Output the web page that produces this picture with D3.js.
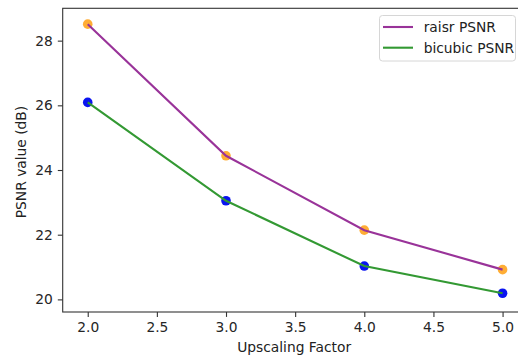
<!DOCTYPE html>
<html>
<head>
<meta charset="utf-8">
<script src="https://cdn.jsdelivr.net/npm/d3@7"></script>
<style>
  body { margin: 0; background: #fff; }
  text { font-family: "DejaVu Sans", sans-serif; fill: #222; }
</style>
</head>
<body>
<script>
// data
const factors = [2, 3, 4, 5];
const raisrPSNR = [28.51, 24.44, 22.14, 20.92];
const bicubicPSNR = [26.09, 23.05, 21.03, 20.19];
const xTicks = [2.0, 2.5, 3.0, 3.5, 4.0, 4.5, 5.0];
const yTicks = [20, 22, 24, 26, 28];

const W = 518, H = 360;
const m = { left: 62.7, top: 8.3, right: 527.6, bottom: 312 };
const fs = 13.8;

const svg = d3.select("body").append("svg")
  .attr("width", W)
  .attr("height", H);

const x = d3.scaleLinear().domain([1.819, 5.181]).range([m.left, m.right]);
const y = d3.scaleLinear().domain([19.61, 29.0]).range([m.bottom, m.top]);

//axes
const xAxis = svg.append("g")
  .attr("transform", `translate(0,${m.bottom})`)
  .call(d3.axisBottom(x).tickValues(xTicks).tickFormat(d3.format(".1f")).tickSize(4.9).tickPadding(4.9));
const yAxis = svg.append("g")
  .attr("transform", `translate(${m.left},0)`)
  .call(d3.axisLeft(y).tickValues(yTicks).tickFormat(d3.format("d")).tickSize(4.9).tickPadding(4.9));

[xAxis, yAxis].forEach(a => {
  a.select(".domain").remove();
  a.selectAll("line").attr("stroke", "#333").attr("stroke-width", 1.1);
  a.selectAll("text").attr("font-size", fs).attr("font-family", "DejaVu Sans").style("fill", "#262626");
});

//spines
svg.append("rect")
  .attr("x", m.left).attr("y", m.top)
  .attr("width", m.right - m.left).attr("height", m.bottom - m.top)
  .attr("fill", "none").attr("stroke", "#333").attr("stroke-width", 1.1);

//points first, lines on top
const series = [
  { name: "raisr PSNR", vals: raisrPSNR, line: "#993399", dot: "#ffa41f" },
  { name: "bicubic PSNR", vals: bicubicPSNR, line: "#339933", dot: "#0a14f0" }
];

series.forEach(s => {
  svg.selectAll(null)
    .data(factors)
    .enter()
    .append("circle")
    .attr("cx", d => x(d))
    .attr("cy", (d, i) => y(s.vals[i]))
    .attr("r", 4.8)
    .attr("fill", s.dot)
    .attr("opacity", s.dot === "#ffa41f" ? 0.9 : 1);
});

const line = d3.line()
  .x(d => x(d[0]))
  .y(d => y(d[1]));

series.forEach(s => {
  svg.append("path")
    .datum(factors.map((f, i) => [f, s.vals[i]]))
    .attr("d", line)
    .attr("fill", "none")
    .attr("stroke", s.line)
    .attr("stroke-width", 2.1);
});

//labels
svg.append("text")
  .attr("x", (m.left + m.right) / 2 - 1)
  .attr("y", 352)
  .attr("text-anchor", "middle")
  .attr("font-size", fs)
  .text("Upscaling Factor");

svg.append("text")
  .attr("transform", `translate(26,162) rotate(-90)`)
  .attr("text-anchor", "middle")
  .attr("font-size", fs)
  .text("PSNR value (dB)");

//legend
const lg = svg.append("g");
lg.append("rect")
  .attr("x", 379.5).attr("y", 15.5)
  .attr("width", 136).attr("height", 45.5)
  .attr("rx", 3)
  .attr("fill", "#fff").attr("fill-opacity", 0.8)
  .attr("stroke", "#d6d6d6").attr("stroke-width", 1);

series.forEach((s, i) => {
  const ly = 27 + i * 20.7;
  lg.append("line")
    .attr("x1", 383).attr("x2", 413)
    .attr("y1", ly).attr("y2", ly)
    .attr("stroke", s.line).attr("stroke-width", 2.1);
  lg.append("text")
    .attr("x", 423.7).attr("y", ly + 5)
    .attr("font-size", fs)
    .text(s.name);
});
</script>
</body>
</html>
